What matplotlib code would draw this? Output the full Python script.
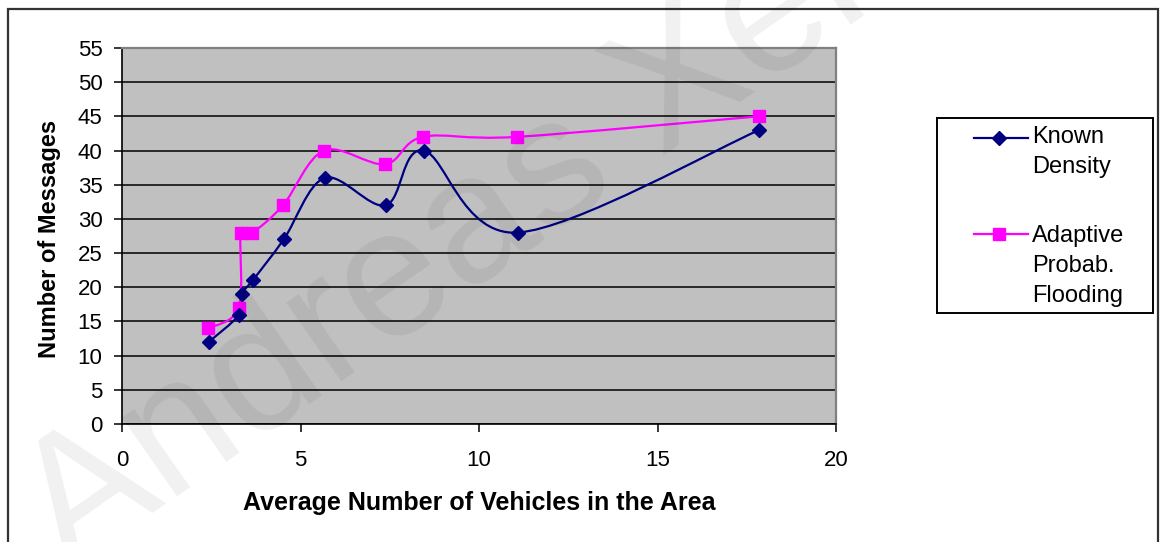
import matplotlib
matplotlib.use("Agg")
import matplotlib.pyplot as plt
from matplotlib.path import Path
from matplotlib.patches import PathPatch, Rectangle
from matplotlib.lines import Line2D
import numpy as np

# ---------------- data ----------------
x_known = [2.43, 3.28, 3.35, 3.66, 4.53, 5.68, 7.39, 8.45, 11.08, 17.85]
y_known = [12, 16, 19, 21, 27, 36, 32, 40, 28, 43]
x_adapt = [2.42, 3.27, 3.33, 3.65, 4.51, 5.66, 7.37, 8.43, 11.06, 17.83]
y_adapt = [14, 17, 28, 28, 32, 40, 38, 42, 42, 45]
label_known = "Known\nDensity"
label_adapt = "Adaptive\nProbab.\nFlooding"
x_ticks = [0, 5, 10, 15, 20]
y_ticks = list(range(0, 56, 5))
x_title = "Average Number of Vehicles in the Area"
y_title = "Number of Messages"
watermark = "Andreas Xeros"

W, H = 1163, 542
FONT = "Liberation Sans"
plt.rcParams["font.family"] = [FONT, "DejaVu Sans"]

fig = plt.figure(figsize=(W / 100, H / 100), dpi=100)
fig.patch.set_facecolor("white")

# outer frame of the chart
frame = Rectangle((8 / W, -0.05), (1158 - 8) / W, 1.05 - 9 / H,
                  transform=fig.transFigure, fill=False, edgecolor="#333333",
                  linewidth=1.6, zorder=0)
fig.add_artist(frame)

ax = fig.add_axes([122 / W, (H - 424) / H, (836 - 122) / W, (424 - 48) / H])
ax.set_facecolor("#C0C0C0")
ax.set_xlim(0, 20)
ax.set_ylim(0, 55)
ax.set_xticks(x_ticks)
ax.set_yticks(y_ticks)
ax.yaxis.grid(True, color="black", linewidth=1.1)
ax.set_axisbelow(True)
for s in ("top", "right"):
    ax.spines[s].set_color("#808080")
    ax.spines[s].set_linewidth(1.6)
for s in ("left", "bottom"):
    ax.spines[s].set_color("black")
    ax.spines[s].set_linewidth(1.2)
ax.tick_params(axis="both", direction="out", length=6, width=1.1, color="black",
               labelsize=16, labelcolor="black")
ax.tick_params(axis="y", pad=8)
ax.tick_params(axis="x", pad=13)


def smooth_path(xs, ys):
    pts = np.column_stack([xs, ys]).astype(float)
    n = len(pts)
    verts = [pts[0]]
    codes = [Path.MOVETO]
    for i in range(n - 1):
        p0 = pts[i - 1] if i > 0 else pts[i]
        p1 = pts[i]
        p2 = pts[i + 1]
        p3 = pts[i + 2] if i + 2 < n else pts[i + 1]
        c1 = p1 + (p2 - p0) / 6.0
        c2 = p2 - (p3 - p1) / 6.0
        verts += [c1, c2, p2]
        codes += [Path.CURVE4] * 3
    return Path(verts, codes)


blue = "#000080"
pink = "#FF00FF"
ax.add_patch(PathPatch(smooth_path(x_known, y_known), fill=False,
                       edgecolor=blue, linewidth=1.6, zorder=3))
ax.add_patch(PathPatch(smooth_path(x_adapt, y_adapt), fill=False,
                       edgecolor=pink, linewidth=1.6, zorder=3))
ax.plot(x_adapt, y_adapt, linestyle="none", marker="s", markersize=8,
        color=pink, zorder=4, clip_on=False)
ax.plot(x_known, y_known, linestyle="none", marker="D", markersize=7,
        color=blue, zorder=5, clip_on=False)

ax.set_xlabel(x_title, fontsize=18, fontweight="bold")
ax.xaxis.set_label_coords(0.5, (424 - 503) / 376)
ax.xaxis.label.set_va("center")
ax.set_ylabel(y_title, fontsize=17, fontweight="bold")
ax.yaxis.set_label_coords((50 - 122) / 714, (424 - 239) / 376)
ax.yaxis.label.set_va("center")

# legend box (pixel coordinates inside the box)
bx0, by0, bx1, by1 = 937, 118, 1153, 313
lax = fig.add_axes([bx0 / W, (H - by1) / H, (bx1 - bx0) / W, (by1 - by0) / H])
lax.set_xlim(bx0, bx1)
lax.set_ylim(by1, by0)
lax.set_xticks([])
lax.set_yticks([])
lax.set_facecolor("white")
for s in lax.spines.values():
    s.set_color("black")
    s.set_linewidth(1.4)
lax.add_line(Line2D([974, 1028], [138, 138], color=blue, linewidth=1.6))
lax.plot([999], [138], marker="D", markersize=7, color=blue)
lax.add_line(Line2D([974, 1028], [234, 234], color=pink, linewidth=1.6))
lax.plot([999], [234], marker="s", markersize=8, color=pink)
for i, line in enumerate(label_known.split("\n")):
    lax.text(1032, 143 + 30 * i, line, fontsize=17, va="baseline", ha="left")
for i, line in enumerate(label_adapt.split("\n")):
    lax.text(1032, 242 + 30 * i, line, fontsize=17, va="baseline", ha="left")

# watermark
fig.text(69 / W, (H - 572) / H, watermark, rotation=35, rotation_mode="anchor",
         ha="left", va="baseline", fontsize=130, color="black", alpha=0.06,
         zorder=100)

fig.savefig("out.png", dpi=100)
